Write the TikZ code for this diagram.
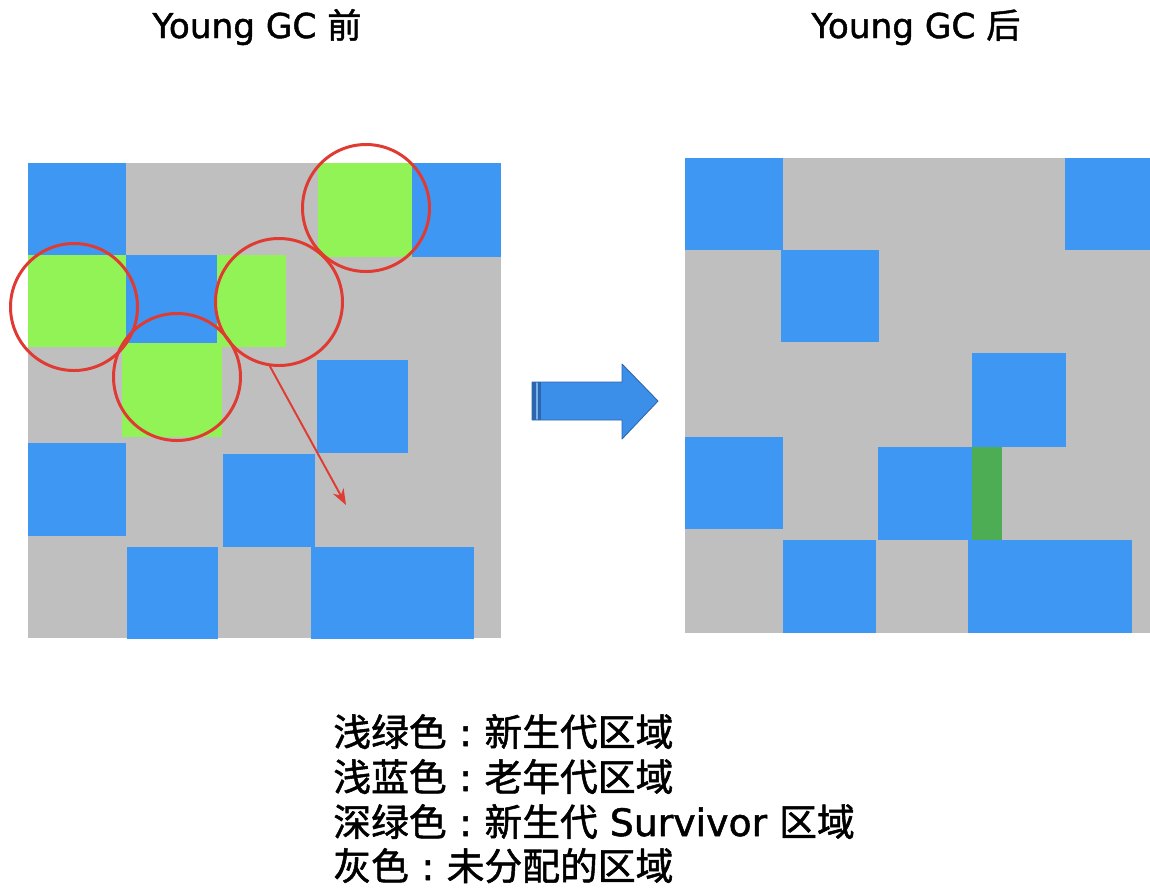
\documentclass[tikz,border=0pt]{standalone}
\usepackage{fontspec}
\usetikzlibrary{arrows.meta}
\setmainfont{DejaVu Sans}[FakeBold=1.4]
\newfontfamily\cjk{Noto Sans CJK SC}[FakeBold=1.4]
\definecolor{freegray}{HTML}{BFBFBF}
\definecolor{oldblue}{HTML}{3D97F3}
\definecolor{edengreen}{HTML}{92F356}
\definecolor{survgreen}{HTML}{4CAD55}
\definecolor{ringred}{HTML}{E03B33}
\definecolor{moveblue}{HTML}{3C8FE9}
\definecolor{moveedge}{HTML}{2E66AE}
\newcommand\sepcolon{\hbox to 1em{\hss:\hss}}
\begin{document}
\begin{tikzpicture}[x=0.2mm, y=-0.2mm, line cap=round, line join=round, >={Stealth[length=3.2mm, width=2.4mm]},
	free/.style={fill=freegray},
	old/.style={fill=oldblue},
	eden/.style={fill=edengreen},
	surv/.style={fill=survgreen},
	ring/.style={circle, draw=ringred, line width=1.7pt, inner sep=0pt, minimum size=25.4mm},
	title/.style={anchor=base, font=\fontsize{19.5}{23}\selectfont},
	legend/.style={anchor=base west, inner sep=0pt, font=\fontsize{21.5}{26}\selectfont}]
	\useasboundingbox (0,0) rectangle (1150,891);
	% titles
	\node[title] (before) at (257,38) {Young GC {\cjk 前}};
	\node[title] (after) at (916,38) {Young GC {\cjk 后}};
	\begin{scope}
		% heap before young gc
		\fill[free] (28,163) rectangle (501,638);
		\foreach \a/\b/\c/\d in {28/163/126/255, 412/163/501/257, 126/255/217/343, 317/360/408/453,
			28/443/126/536, 223/454/315/547, 127/547/218/639, 311/547/474/639} {
			\fill[old] (\a,\b) rectangle (\c,\d);
		}
		\foreach \a/\b/\c/\d in {318/163/412/257, 28/255/126/347, 217/255/286/347, 122/343/222/437} {
			\fill[eden] (\a,\b) rectangle (\c,\d);
		}
		\node[ring] (r1) at (366,208) {};
		\node[ring] (r2) at (74,307) {};
		\node[ring] (r3) at (177,377) {};
		\node[ring] (r4) at (279,302) {};
		\coordinate (dest) at (346,505);
		\draw[->, ringred, line width=1.1pt] (r4.-98) -- (dest);
	\end{scope}
	\begin{scope}
		% move arrow
		\fill[moveblue, draw=moveedge, line width=0.5pt] (532,382) -- (622,382) -- (622,364) -- (658,401)
			-- (622,439) -- (622,420) -- (532,420) -- cycle;
		\fill[moveedge] (532,382) rectangle (541,420);
		\draw[moveblue!70, line width=0.6pt] (537,383) -- (537,419);
	\end{scope}
	\begin{scope}
		% heap after young gc
		\fill[free] (685,158) rectangle (1150,633);
		\foreach \a/\b/\c/\d in {685/158/783/250, 1065/158/1150/250, 781/250/879/342, 972/353/1066/447,
			685/437/783/529, 878/447/972/540, 783/540/876/633, 968/540/1132/633} {
			\fill[old] (\a,\b) rectangle (\c,\d);
		}
		\fill[surv] (972,447) rectangle (1002,540);
	\end{scope}
	% legend
	\node[legend] (l1) at (333,746) {{\cjk 浅绿色}\sepcolon{\cjk 新生代区域}};
	\node[legend] (l2) at (333,791) {{\cjk 浅蓝色}\sepcolon{\cjk 老年代区域}};
	\node[legend] (l3) at (333,836) {{\cjk 深绿色}\sepcolon{\cjk 新生代} Survivor {\cjk 区域}};
	\node[legend] (l4) at (333,880) {{\cjk 灰色}\sepcolon{\cjk 未分配的区域}};
\end{tikzpicture}
\end{document}
